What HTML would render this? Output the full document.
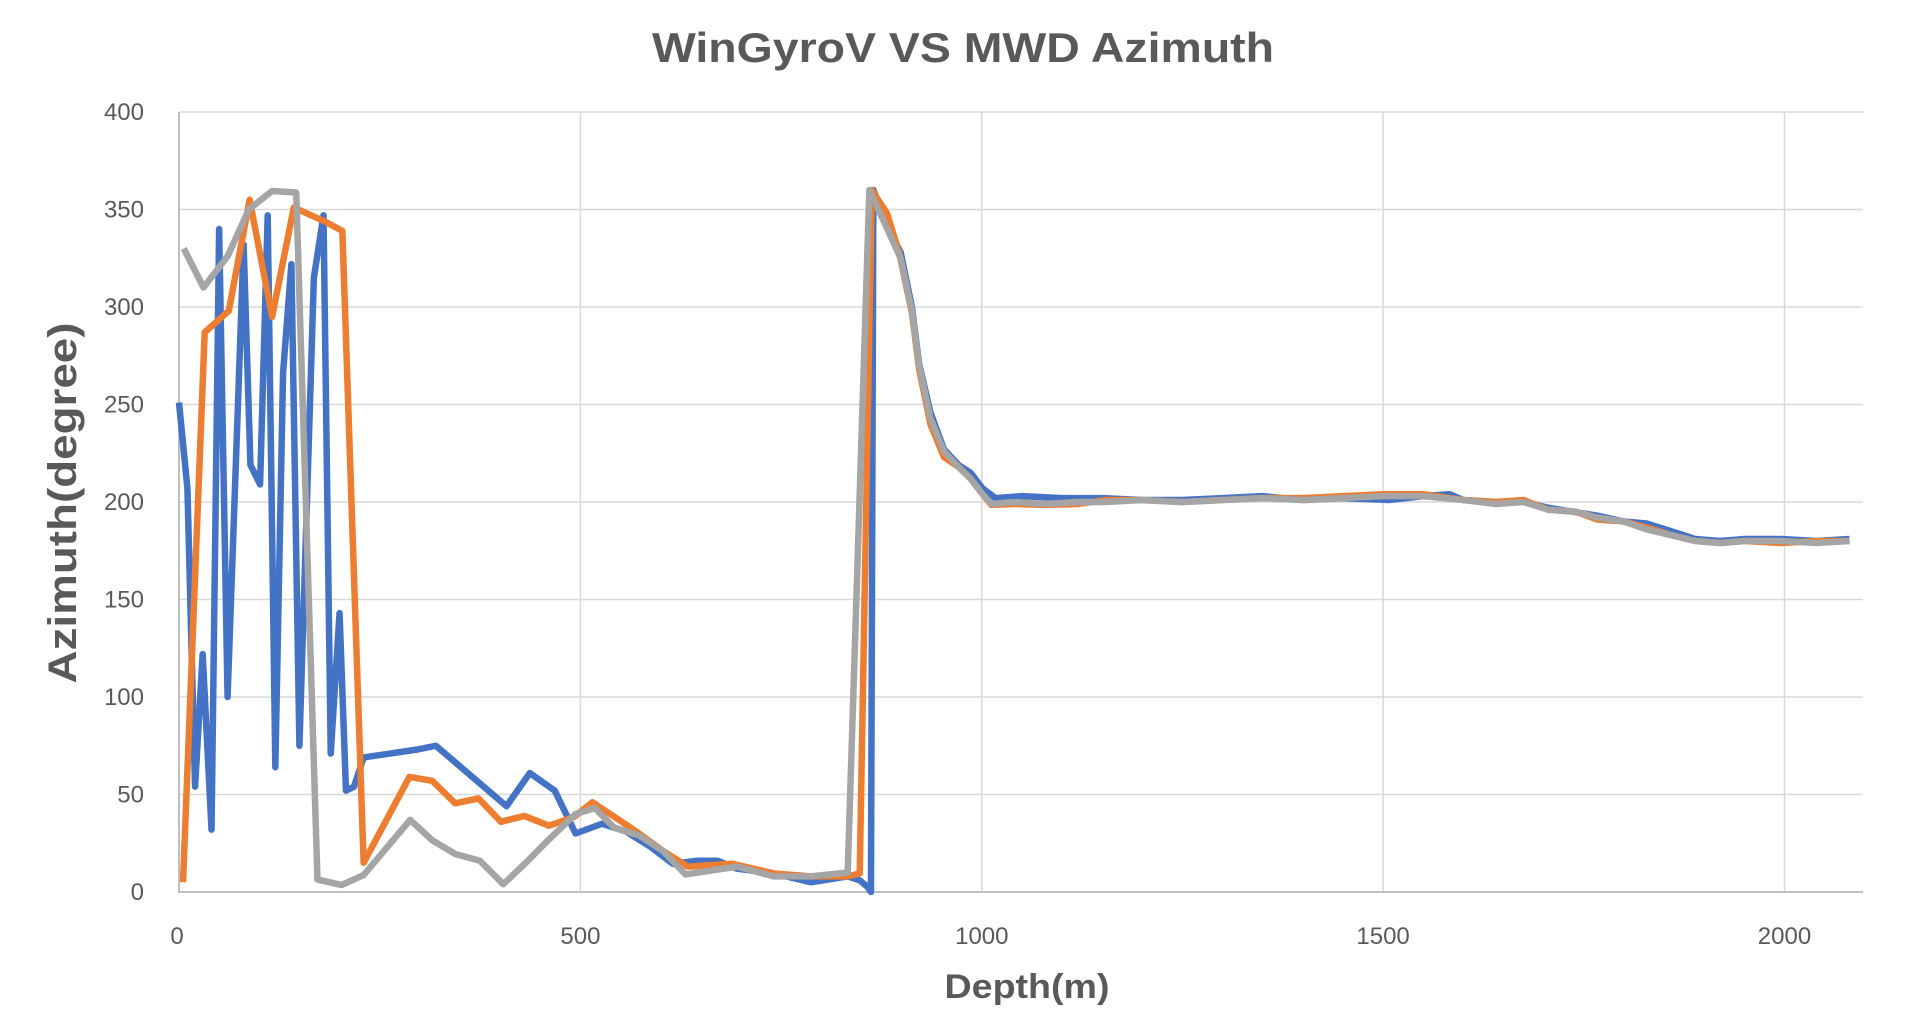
<!DOCTYPE html>
<html><head><meta charset="utf-8"><style>
html,body{margin:0;padding:0;background:#fff;}
svg{display:block;font-family:"Liberation Sans",sans-serif;}
</style></head><body>
<svg width="1922" height="1032" viewBox="0 0 1922 1032" xmlns="http://www.w3.org/2000/svg">
<rect width="1922" height="1032" fill="#fff"/>
<text x="963" y="62" font-size="42" font-weight="bold" fill="#595959" text-anchor="middle" textLength="622" lengthAdjust="spacingAndGlyphs">WinGyroV VS MWD Azimuth</text>
<g stroke="#d9d9d9" stroke-width="1.5">
<line x1="179" y1="112" x2="1863" y2="112"/>
<line x1="179" y1="209.5" x2="1863" y2="209.5"/>
<line x1="179" y1="307" x2="1863" y2="307"/>
<line x1="179" y1="404.5" x2="1863" y2="404.5"/>
<line x1="179" y1="502" x2="1863" y2="502"/>
<line x1="179" y1="599.5" x2="1863" y2="599.5"/>
<line x1="179" y1="697" x2="1863" y2="697"/>
<line x1="179" y1="794.5" x2="1863" y2="794.5"/>
<line x1="580.4" y1="112" x2="580.4" y2="892"/>
<line x1="981.8" y1="112" x2="981.8" y2="892"/>
<line x1="1383.1" y1="112" x2="1383.1" y2="892"/>
<line x1="1784.5" y1="112" x2="1784.5" y2="892"/>
</g>
<g stroke="#bfbfbf" stroke-width="2">
<line x1="179" y1="112" x2="179" y2="893"/>
<line x1="179" y1="892" x2="1863" y2="892"/>
</g>
<g font-size="24" fill="#595959" text-anchor="end">
<text x="144" y="120">400</text><text x="144" y="217.5">350</text><text x="144" y="315">300</text>
<text x="144" y="412.5">250</text><text x="144" y="510">200</text><text x="144" y="607.5">150</text>
<text x="144" y="705">100</text><text x="144" y="802.5">50</text><text x="144" y="900">0</text>
</g>
<g font-size="24" fill="#595959" text-anchor="middle">
<text x="177" y="944">0</text><text x="580.4" y="944">500</text><text x="981.8" y="944">1000</text>
<text x="1383.1" y="944">1500</text><text x="1784.5" y="944">2000</text>
</g>
<text x="1027" y="998" font-size="34" font-weight="bold" fill="#595959" text-anchor="middle" textLength="165" lengthAdjust="spacingAndGlyphs">Depth(m)</text>
<text transform="translate(76,503) rotate(-90)" font-size="40" font-weight="bold" fill="#595959" text-anchor="middle" textLength="361" lengthAdjust="spacingAndGlyphs">Azimuth(degree)</text>
<g transform="matrix(0.80274 0 0 -1.95 179 892)" fill="none" stroke-width="6.5" stroke-linejoin="round">
<polyline vector-effect="non-scaling-stroke" stroke="#4472c4" points="0,251 10.5,207 20,54 29.5,122 40.5,32 50,340 60.5,100 80.5,332 89,219 101,209 110.5,347 120,64 129.6,266 140,322 150,75 168,315 180,347 189,71 200,143 208,52 218,54 230,69 296,73 320,75 408,44 437,61 468,52 494,30 527,35 557,31 588,23 615,14.5 645,16 671,16 695,12 741,9.5 787,5 833,8 848,6 858,2.5 862,0 865,360 879,344 899,328 913,300 922,271 936,246 953,227 971,219 986,215 1001,207 1017,202 1050,203 1100,202 1150,202 1200,201 1250,201 1300,202 1350,203 1400,201 1450,202 1507,201 1550,203 1583,204 1600,201 1640,200 1675,200 1706,197 1767,193 1800,190 1828,189 1859,185 1889,181 1920,180 1950,181 1996,181 2040,180 2081,181"/>
<polyline vector-effect="non-scaling-stroke" stroke="#ed7d31" points="5,5 32,287 62,298 88,355 116,295 143,351 181,344 203.5,339 230,15 287,59 315.5,57 344,45.5 373,48 401,36 430,39 461,34 492,38.5 515,46 548,37 573,30 603,21 634,13 689,14.5 741,9.5 787,8 833,8 848,9.5 863,360 882,348 897,328 913,297 922,268 936,240 953,223 971,218 986,212 1001,204 1012,198.5 1040,199 1078,198.5 1120,199 1154,201 1200,201 1250,200 1300,201 1350,202 1400,202 1450,203 1500,204 1550,204 1600,201 1640,200 1675,201 1706,196 1740,195 1767,191 1800,190 1828,187 1859,183 1889,180 1920,179 1950,180 1996,179 2040,180 2081,180"/>
<polyline vector-effect="non-scaling-stroke" stroke="#a5a5a5" points="6,330 30.5,310 60.5,326 87,350 116,359.5 146,358.7 172.5,6.4 202.5,3.6 230,8.7 288,37 315.5,26.5 344,19.5 375,16 404,4 432,15 461,27 494,40 518,43 542,33 573,29 603,21 631,9 695,13 741,8 787,8 833,10 860,360 879,343 899,325 913,298 922,270 936,243 953,226 971,218 986,212 1001,204 1012,199 1040,200 1078,199 1120,200 1154,200 1200,201 1250,200 1300,201 1350,202 1400,201 1450,202 1500,203 1550,203 1600,201 1640,199 1675,200 1706,196 1740,195 1767,192 1800,190 1828,186 1859,183 1889,180 1920,179 1950,180 1996,180 2040,179 2081,180"/>
</g>
</svg>
</body></html>
